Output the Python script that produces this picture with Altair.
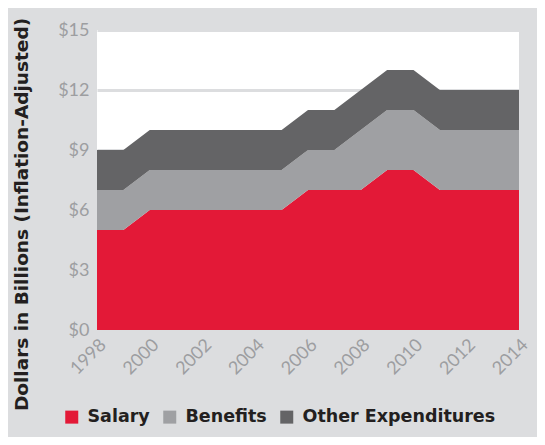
import altair as alt
import pandas as pd

years = list(range(1998, 2015))
salary = [5, 5, 6, 6, 6, 6, 6, 6, 7, 7, 7, 8, 8, 7, 7, 7, 7]
benefits = [2, 2, 2, 2, 2, 2, 2, 2, 2, 2, 3, 3, 3, 3, 3, 3, 3]
other = [2, 2, 2, 2, 2, 2, 2, 2, 2, 2, 2, 2, 2, 2, 2, 2, 2]
series = ["Salary", "Benefits", "Other Expenditures"]
colors = ["#e31937", "#9fa0a3", "#646466"]
x_ticks = list(range(1998, 2015, 2))
y_ticks = [0, 3, 6, 9, 12, 15]

rows = []
for i, y in enumerate(years):
    for k, (name, vals) in enumerate(zip(series, [salary, benefits, other])):
        rows.append({"year": y, "series": name, "value": vals[i], "order": k})
df = pd.DataFrame(rows)

chart = alt.Chart(df).mark_area(opacity=1).encode(
    x=alt.X("year:Q", scale=alt.Scale(domain=[1998, 2014], nice=False),
            axis=alt.Axis(values=x_ticks, format="d", labelAngle=-45, grid=False,
                          ticks=False, domain=False, labelAlign="right",
                          labelBaseline="middle", labelPadding=12, labelOffset=6,
                          labelFontSize=18, labelColor="#9d9ea1", labelFont="Lato"),
            title=None),
    y=alt.Y("value:Q", stack="zero", scale=alt.Scale(domain=[0, 15], nice=False),
            axis=alt.Axis(values=y_ticks, labelExpr="'$' + datum.value", grid=True,
                          gridColor="#dcdddf", gridWidth=3, ticks=False, domain=False,
                          labelFontSize=18, labelColor="#9d9ea1", labelFont="Lato",
                          labelPadding=8,
                          title="Dollars in Billions (Inflation-Adjusted)",
                          titleFontSize=18.5, titleFont="DejaVu Sans", titleFontWeight="bold",
                          titleColor="#231f20", titleX=-70, titleY=184,
                          titleBaseline="alphabetic", titleAngle=-90, titleAlign="center",
                          titleLimit=0)),
    color=alt.Color("series:N", scale=alt.Scale(domain=series, range=colors),
                    legend=alt.Legend(orient="none", legendX=-34, legendY=378,
                                      direction="horizontal", title=None,
                                      symbolType="square", symbolSize=169,
                                      symbolStrokeWidth=0, symbolOpacity=1,
                                      labelFontSize=17.5, labelFont="DejaVu Sans",
                                      labelFontWeight="bold", labelColor="#231f20",
                                      labelLimit=0, columnPadding=11, labelOffset=7)),
    order=alt.Order("order:Q", sort="ascending"),
).properties(
    width=422, height=300,
    autosize=alt.AutoSizeParams(type="none"),
    padding={"left": 89, "top": 22, "right": 18, "bottom": 107},
    background="#dcdddf",
).configure_view(fill="white", stroke=None)

chart.save("out.html", embed_options={"renderer": "svg", "actions": False})
